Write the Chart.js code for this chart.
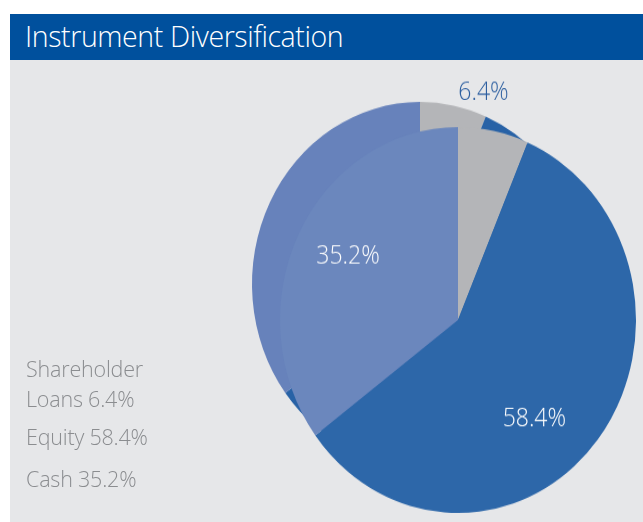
<!DOCTYPE html>
<html>
<head>
<meta charset="utf-8">
<script src="https://cdn.jsdelivr.net/npm/chart.js@4"></script>
<style>
  html, body { margin: 0; padding: 0; background: #fff; }
  body { width: 643px; height: 522px; position: relative; overflow: hidden; font-family: "Open Sans", sans-serif; }
  .header { position: absolute; left: 10px; top: 14px; width: 633px; height: 46px; background: #00509d; }
  .header span { position: absolute; left: 15px; top: 3px; color: #fff; font-size: 28.5px; font-weight: 300; letter-spacing: -0.4px; }
  .panel { position: absolute; left: 10px; top: 60px; width: 633px; height: 462px; background: #e6e7e9; overflow: hidden; }
  .panel canvas { position: absolute; left: 0; top: 0; }
  #backPie { transform: scaleY(1.084); transform-origin: 0 224px; }
  #frontPie { transform: scaleY(1.084); transform-origin: 0 260px; }
  .legend { position: absolute; left: 16px; top: 294px; color: #8b8d90; font-size: 21.5px; font-weight: 300; letter-spacing: -0.2px; }
  .legend div { line-height: 30px; }
  .legend div.gap { margin-top: 8px; }
  .legend div.gap2 { margin-top: 12px; }
</style>
</head>
<body>
<div class="header"><span>Instrument Diversification</span></div>
<div class="panel">
  <canvas id="backPie" width="633" height="462"></canvas>
  <canvas id="frontPie" width="633" height="462"></canvas>
  <div class="legend" id="legend"></div>
</div>
<script>
const categories = ["Shareholder Loans", "Equity", "Cash"];
const shares = [6.4, 58.4, 35.2];
const labelText = ["6.4%", "58.4%", "35.2%"];
const legendLines = [["Shareholder", "Loans 6.4%"], ["Equity 58.4%"], ["Cash 35.2%"]];

const frontColors = ["#b4b5b8", "#2d67a9", "#6b87bd"];
const backColors = ["#b4b5b8", "#2862a6", "#6782bb"];
const labelColors = ["#2a5d9f", "#ffffff", "#ffffff"];

// legend text on the left
const legend = document.getElementById("legend");
legendLines.forEach((lines, i) => {
  lines.forEach((t, j) => {
    const d = document.createElement("div");
    d.textContent = t;
    if (j === 0 && i > 0) d.className = i === 1 ? "gap" : "gap2";
    legend.appendChild(d);
  });
});

// percent labels, placed off each slice's mid angle
const labelRadius = [1.185, 0.67, 0.70];
const labelTurn = [-0.08, 0.21, 0.025];

const sliceLabels = {
  id: "sliceLabels",
  afterDatasetsDraw(chart) {
    const ctx = chart.ctx;
    const arcs = chart.getDatasetMeta(0).data;
    ctx.save();
    ctx.font = "300 23px 'Open Sans', sans-serif";
    ctx.textAlign = "center";
    ctx.textBaseline = "middle";
    arcs.forEach((arc, i) => {
      const p = arc.getProps(["x", "y", "startAngle", "endAngle", "outerRadius"], true);
      const a = (p.startAngle + p.endAngle) / 2 + labelTurn[i];
      const r = p.outerRadius * labelRadius[i];
      ctx.fillStyle = labelColors[i];
      ctx.fillText(labelText[i], p.x + Math.cos(a) * r, p.y + Math.sin(a) * r);
    });
    ctx.restore();
  }
};

function makePie(id, colors, padding, plugins) {
  return new Chart(document.getElementById(id), {
    type: "pie",
    data: {
      labels: categories,
      datasets: [{ data: shares, backgroundColor: colors, borderWidth: 0 }]
    },
    options: {
      responsive: false,
      animation: false,
      layout: { padding: padding },
      plugins: { legend: { display: false }, tooltip: { enabled: false } }
    },
    plugins: plugins
  });
}

// back layer: centre (410, 224) in panel, r 168
makePie("backPie", backColors, { left: 242, top: 56, right: 55, bottom: 70 }, []);
// front layer: centre (448, 260) in panel, r 178
makePie("frontPie", frontColors, { left: 270, top: 82, right: 7, bottom: 24 }, [sliceLabels]);
</script>
</body>
</html>
